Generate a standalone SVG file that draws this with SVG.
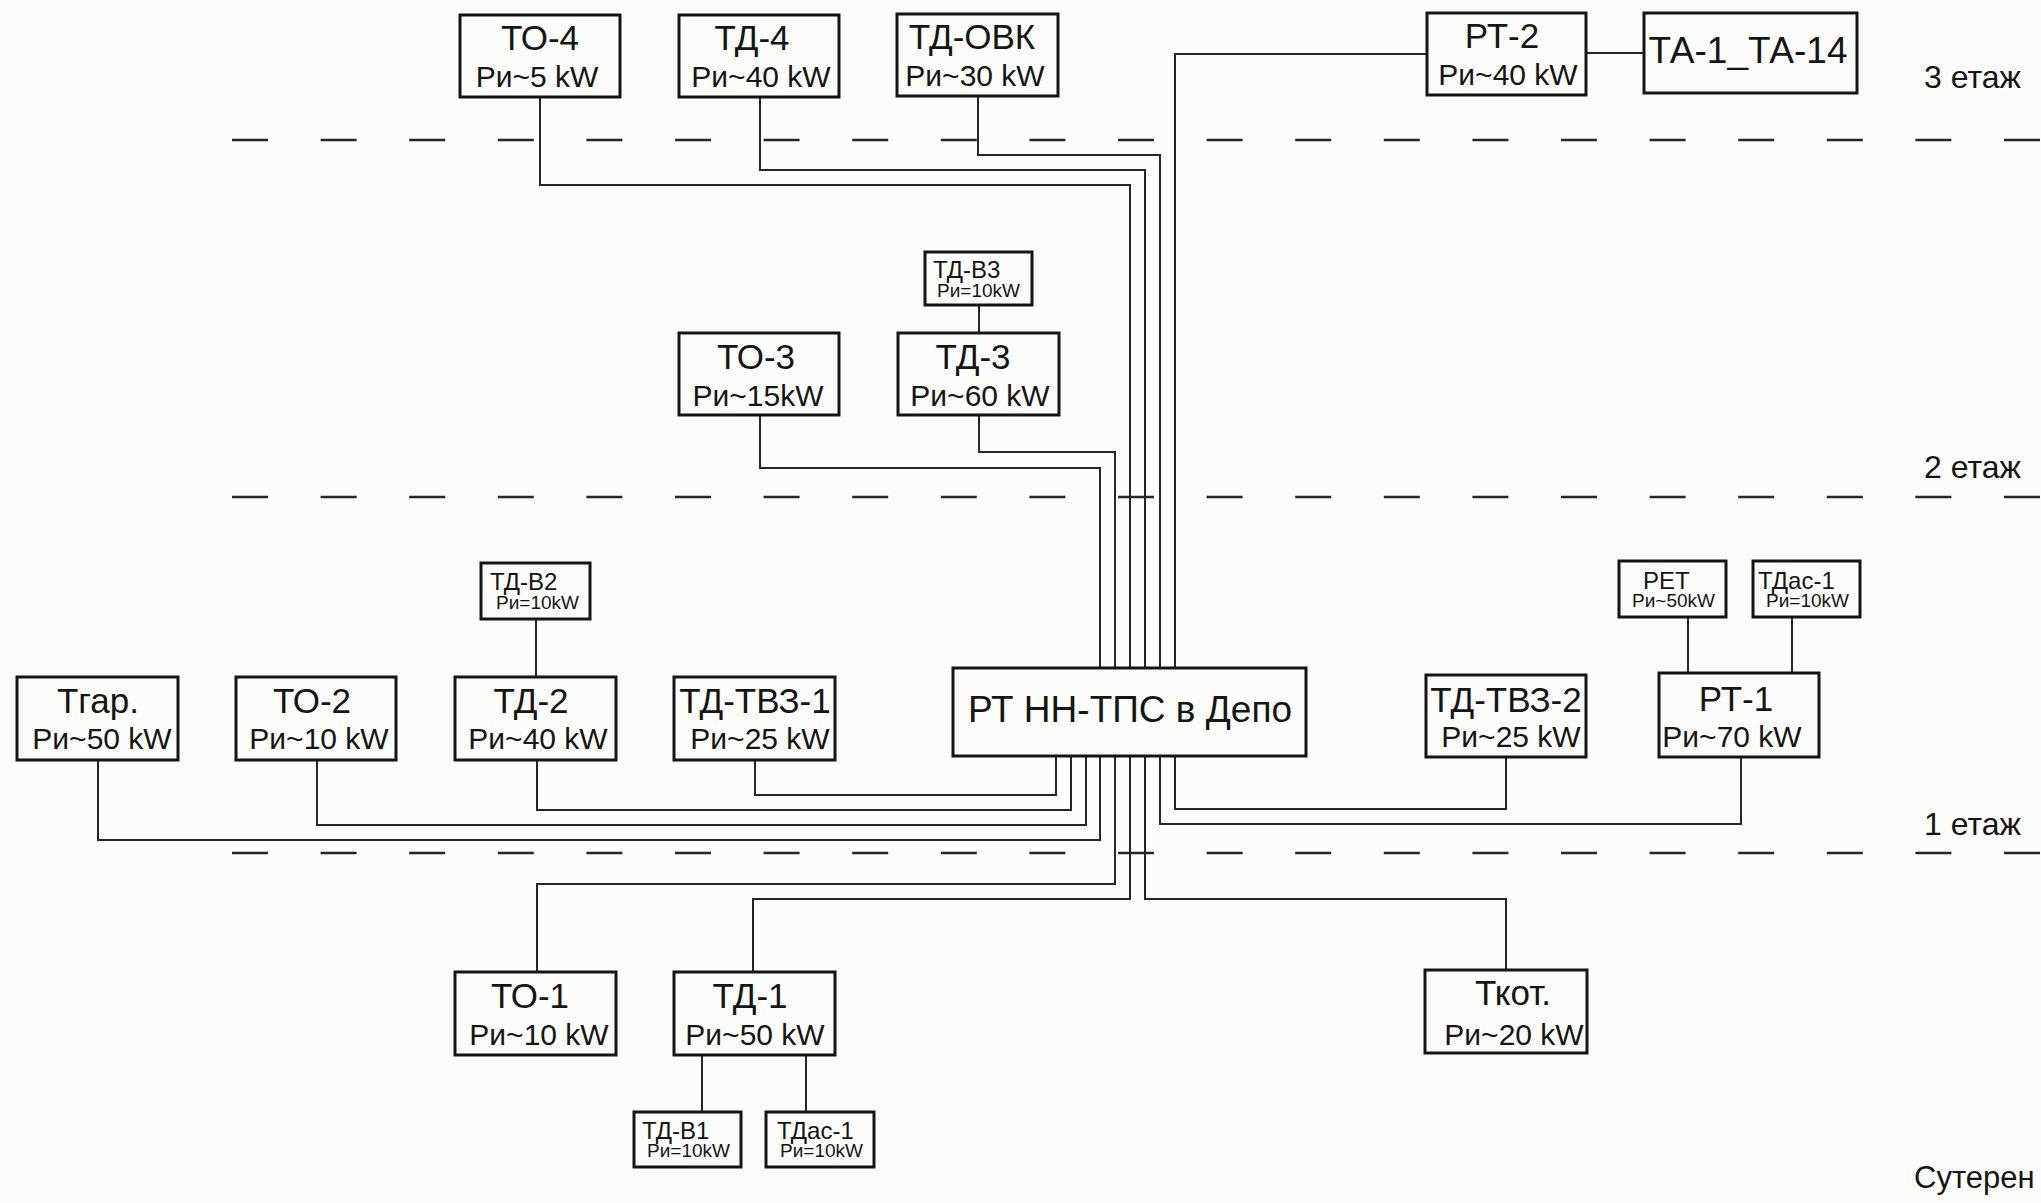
<svg xmlns="http://www.w3.org/2000/svg" width="2041" height="1203" viewBox="0 0 2041 1203">
<style>
.bg{fill:#fcfcfa}
.box{fill:#fcfcfa;stroke:#151515;stroke-width:3}
.w{fill:none;stroke:#262626;stroke-width:2}
.floor{fill:none;stroke:#262626;stroke-width:2.5;stroke-dasharray:36 52.6}
text{font-family:"Liberation Sans",Arial,sans-serif;fill:#151515}
.ti{font-size:35px;text-anchor:middle}
.pw{font-size:30px;text-anchor:middle}
.st{font-size:24px}
.sp{font-size:19px}
.main{font-size:37px;text-anchor:middle}
.lbl{font-size:32px}
</style>
<rect class="bg" x="0" y="0" width="2041" height="1203"/>

<g id="floors">
<path class="floor" d="M232 140 H2041"/>
<path class="floor" d="M232 497 H2041"/>
<path class="floor" d="M232 853 H2041"/>
<text class="lbl" x="1924" y="88">3 етаж</text>
<text class="lbl" x="1924" y="478">2 етаж</text>
<text class="lbl" x="1924" y="835">1 етаж</text>
<text class="lbl" x="1914" y="1188" style="font-size:31px">Сутерен</text>
</g>

<g id="connectors">
<path class="w" d="M540 97 V185 H1130 V668"/>
<path class="w" d="M760 97 V170 H1145 V668"/>
<path class="w" d="M978 96 V155 H1160 V668"/>
<path class="w" d="M1427 54 H1175 V668"/>
<path class="w" d="M1586 53 H1644"/>
<path class="w" d="M979 305 V333"/>
<path class="w" d="M979 415 V452 H1115 V668"/>
<path class="w" d="M760 415 V468 H1100 V668"/>
<path class="w" d="M536 619 V677"/>
<path class="w" d="M1688 617 V673"/>
<path class="w" d="M1792 617 V673"/>
<path class="w" d="M755 760 V795 H1056 V756"/>
<path class="w" d="M537 760 V810 H1071 V756"/>
<path class="w" d="M317 760 V825 H1086 V756"/>
<path class="w" d="M98 760 V840 H1100 V756"/>
<path class="w" d="M1115 756 V884 H537 V972"/>
<path class="w" d="M1130 756 V899 H753 V972"/>
<path class="w" d="M1145 756 V899 H1506 V970"/>
<path class="w" d="M1160 756 V824 H1741 V757"/>
<path class="w" d="M1175 756 V809 H1506 V757"/>
<path class="w" d="M702 1055 V1112"/>
<path class="w" d="M806 1055 V1112"/>
</g>

<g id="TO-4"><rect class="box" x="460" y="15" width="160" height="82"/><text class="ti" x="540" y="50">ТО-4</text><text class="pw" x="537" y="87">Ри~5 kW</text></g>
<g id="TD-4"><rect class="box" x="679" y="15" width="160" height="82"/><text class="ti" x="752" y="50">ТД-4</text><text class="pw" x="761" y="87">Ри~40 kW</text></g>
<g id="TD-OVK"><rect class="box" x="897" y="14" width="161" height="82"/><text class="ti" x="972" y="49">ТД-ОВК</text><text class="pw" x="975" y="86">Ри~30 kW</text></g>
<g id="RT-2"><rect class="box" x="1427" y="13" width="159" height="82"/><text class="ti" x="1502" y="48">РТ-2</text><text class="pw" x="1508" y="85">Ри~40 kW</text></g>
<g id="TA"><rect class="box" x="1644" y="13" width="213" height="80"/><text class="main" x="1748" y="63">ТА-1_ТА-14</text></g>

<g id="TD-V3"><rect class="box" x="925" y="252" width="107" height="53"/><text class="st" x="933" y="278">ТД-В3</text><text class="sp" x="937" y="297">Ри=10kW</text></g>
<g id="TD-3"><rect class="box" x="898" y="333" width="161" height="82"/><text class="ti" x="973" y="369">ТД-3</text><text class="pw" x="980" y="406">Ри~60 kW</text></g>
<g id="TO-3"><rect class="box" x="679" y="333" width="160" height="82"/><text class="ti" x="756" y="369">ТО-3</text><text class="pw" x="758" y="406">Ри~15kW</text></g>

<g id="TD-V2"><rect class="box" x="481" y="563" width="109" height="56"/><text class="st" x="490" y="590">ТД-В2</text><text class="sp" x="496" y="609">Ри=10kW</text></g>
<g id="Tgar"><rect class="box" x="17" y="677" width="161" height="83"/><text class="ti" x="98" y="713">Тгар.</text><text class="pw" x="102" y="749">Ри~50 kW</text></g>
<g id="TO-2"><rect class="box" x="236" y="677" width="160" height="83"/><text class="ti" x="312" y="713">ТО-2</text><text class="pw" x="319" y="749">Ри~10 kW</text></g>
<g id="TD-2"><rect class="box" x="455" y="677" width="161" height="83"/><text class="ti" x="531" y="713">ТД-2</text><text class="pw" x="538" y="749">Ри~40 kW</text></g>
<g id="TD-TVZ-1"><rect class="box" x="674" y="677" width="161" height="83"/><text class="ti" x="755" y="713">ТД-ТВЗ-1</text><text class="pw" x="760" y="749">Ри~25 kW</text></g>
<g id="RT-NN-TPS"><rect class="box" x="953" y="668" width="353" height="88"/><text class="main" x="1130" y="722">РТ НН-ТПС в Депо</text></g>
<g id="TD-TVZ-2"><rect class="box" x="1426" y="675" width="160" height="82"/><text class="ti" x="1506" y="712">ТД-ТВЗ-2</text><text class="pw" x="1511" y="747">Ри~25 kW</text></g>
<g id="RT-1"><rect class="box" x="1659" y="673" width="160" height="84"/><text class="ti" x="1736" y="711">РТ-1</text><text class="pw" x="1732" y="747">Ри~70 kW</text></g>
<g id="RET"><rect class="box" x="1619" y="561" width="107" height="56"/><text class="st" x="1643" y="589">РЕТ</text><text class="sp" x="1632" y="607">Ри~50kW</text></g>
<g id="TDas-1-top"><rect class="box" x="1753" y="561" width="107" height="56"/><text class="st" x="1758" y="589">ТДас-1</text><text class="sp" x="1766" y="607">Ри=10kW</text></g>

<g id="TO-1"><rect class="box" x="455" y="972" width="161" height="83"/><text class="ti" x="530" y="1008">ТО-1</text><text class="pw" x="539" y="1045">Ри~10 kW</text></g>
<g id="TD-1"><rect class="box" x="674" y="972" width="161" height="83"/><text class="ti" x="750" y="1008">ТД-1</text><text class="pw" x="755" y="1045">Ри~50 kW</text></g>
<g id="TD-V1"><rect class="box" x="634" y="1112" width="107" height="55"/><text class="st" x="642" y="1139">ТД-В1</text><text class="sp" x="647" y="1157">Ри=10kW</text></g>
<g id="TDas-1-bottom"><rect class="box" x="766" y="1112" width="108" height="55"/><text class="st" x="777" y="1139">ТДас-1</text><text class="sp" x="780" y="1157">Ри=10kW</text></g>
<g id="Tkot"><rect class="box" x="1425" y="970" width="162" height="83"/><text class="ti" x="1513" y="1005">Ткот.</text><text class="pw" x="1514" y="1045">Ри~20 kW</text></g>
</svg>
